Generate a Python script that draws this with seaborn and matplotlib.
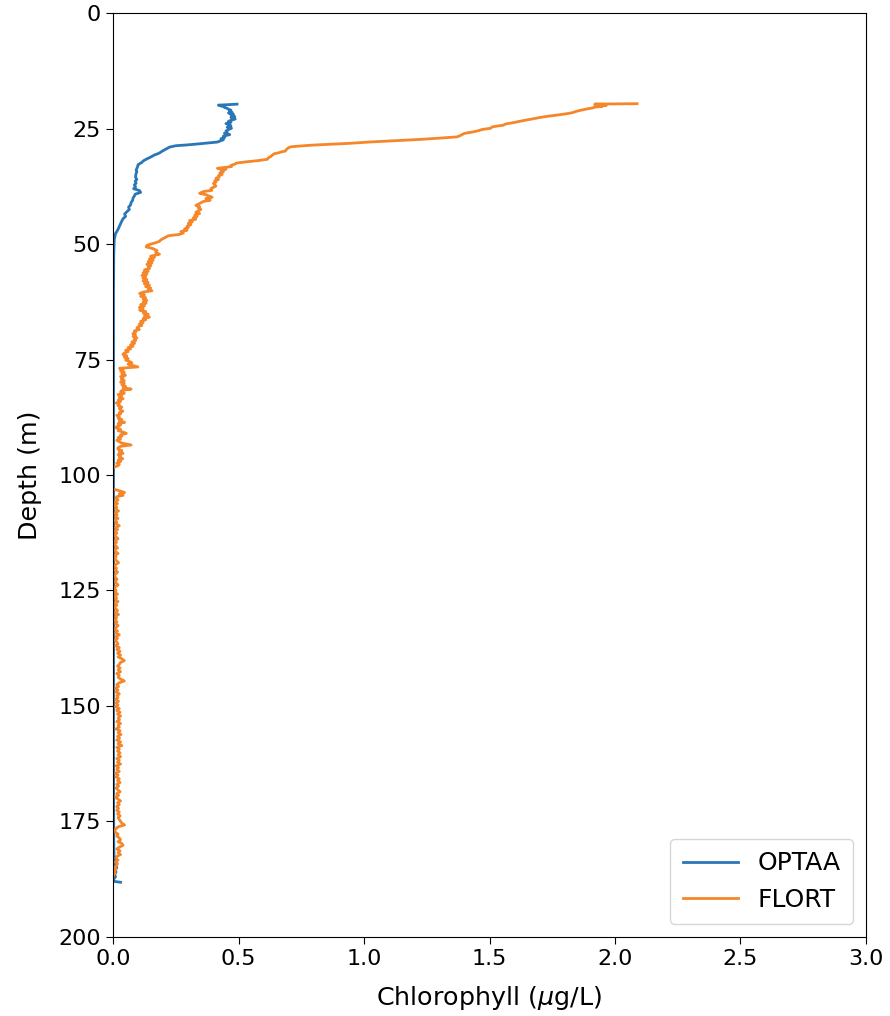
import matplotlib
matplotlib.use("Agg")
import matplotlib.pyplot as plt
import seaborn as sns

# ---------------- data (depth in m, chlorophyll in ug/L) ----------------
# OPTAA profile, in segments
optaa_depth_a = [19.7, 19.8, 19.9, 20.1, 20.2, 20.4, 20.6, 20.8, 21.0, 21.2, 21.5, 21.6, 21.9, 22.1, 22.4,
                 22.6, 22.9, 23.1, 23.4, 23.6, 23.9, 24.2, 24.4, 24.7, 24.9, 25.2, 25.5, 25.8, 26.0, 26.3]
optaa_chl_a = [0.494, 0.46, 0.42, 0.43, 0.44, 0.444, 0.455, 0.46, 0.47, 0.465, 0.475, 0.46, 0.48, 0.47, 0.485,
               0.47, 0.487, 0.475, 0.46, 0.47, 0.45, 0.465, 0.47, 0.455, 0.472, 0.46, 0.45, 0.455, 0.444, 0.465]
optaa_depth_b = [26.6, 26.9, 27.2, 27.4, 27.7, 27.9, 28.2, 28.5, 28.7, 29.0, 29.3, 29.6, 29.9, 30.1, 30.4,
                 30.7, 31.0, 31.3, 31.4, 31.7, 32.0, 32.3, 32.6, 32.8, 33.2, 33.6, 34.0, 34.3, 34.7, 35.2]
optaa_chl_b = [0.44, 0.445, 0.43, 0.44, 0.425, 0.416, 0.36, 0.30, 0.25, 0.225, 0.215, 0.205, 0.195, 0.19, 0.18,
               0.165, 0.155, 0.145, 0.14, 0.13, 0.12, 0.115, 0.106, 0.10, 0.098, 0.095, 0.092, 0.095, 0.092, 0.09]
optaa_depth_c = [35.6, 36.0, 36.4, 36.8, 37.2, 37.6, 38.0, 38.4, 38.8, 39.2, 39.6, 40.0, 40.5, 41.0, 41.5,
                 42.0, 42.5, 43.0, 43.5, 44.0, 44.5, 45.0, 45.6, 46.2, 46.8, 47.3, 47.7]
optaa_chl_c = [0.09, 0.095, 0.088, 0.092, 0.085, 0.09, 0.082, 0.105, 0.11, 0.088, 0.085, 0.08, 0.078, 0.072, 0.07,
               0.062, 0.065, 0.055, 0.046, 0.05, 0.04, 0.035, 0.03, 0.025, 0.02, 0.015, 0.01]
optaa_depth_d = [49.0, 52.0, 60.0, 80.0, 100.0, 120.0, 140.0, 160.0, 180.0, 182.5, 183.0, 183.5, 184.0, 184.5,
                 185.0, 185.5, 186.0, 186.5, 187.0, 187.5, 188.0, 188.2]
optaa_chl_d = [0.005, 0.003, 0.002, 0.002, 0.002, 0.002, 0.002, 0.002, 0.003, 0.004, 0.01, 0.006, 0.012, 0.006,
               0.015, 0.008, 0.012, 0.006, 0.01, 0.003, 0.003, 0.03]

# FLORT profile, in segments
flort_depth_a = [19.59, 19.68, 19.78, 19.87, 19.96, 20.06, 20.15, 20.34, 20.52, 20.71, 20.99, 21.27, 21.55, 21.74, 22.02,
                 22.30, 22.58, 22.86, 23.14, 23.42, 23.70, 23.98, 24.26, 24.44, 24.63, 24.91, 25.19, 25.47, 25.75, 26.03]
flort_chl_a = [2.088, 1.92, 1.96, 1.92, 1.965, 1.93, 1.95, 1.92, 1.91, 1.89, 1.866, 1.845, 1.83, 1.81, 1.775,
               1.735, 1.70, 1.675, 1.645, 1.62, 1.595, 1.565, 1.554, 1.53, 1.51, 1.505, 1.47, 1.454, 1.43, 1.40]
flort_depth_b = [26.31, 26.59, 26.78, 27.06, 27.34, 27.62, 27.90, 28.18, 28.36, 28.55, 28.74, 28.92, 29.11, 29.30, 29.58,
                 29.86, 30.04, 30.23, 30.42, 30.70, 30.98, 31.26, 31.63, 31.91, 32.19, 32.47, 32.66, 32.94, 33.22, 33.59]
flort_chl_b = [1.39, 1.38, 1.37, 1.30, 1.22, 1.12, 1.02, 0.942, 0.87, 0.80, 0.75, 0.71, 0.70, 0.695, 0.69,
               0.686, 0.67, 0.66, 0.643, 0.635, 0.63, 0.62, 0.615, 0.58, 0.53, 0.49, 0.487, 0.47, 0.472, 0.416]
flort_depth_c = [33.78, 34.06, 34.34, 34.62, 34.90, 35.18, 35.46, 35.74, 36.02, 36.30, 36.58, 36.86, 37.14, 37.42, 37.70,
                 37.98, 38.35, 38.63, 39.01, 39.29, 39.56, 39.84, 40.12, 40.50, 40.78, 41.06, 41.34, 41.62, 41.90, 42.18]
flort_chl_c = [0.45, 0.43, 0.44, 0.425, 0.435, 0.42, 0.423, 0.41, 0.42, 0.405, 0.41, 0.40, 0.405, 0.41, 0.40,
               0.39, 0.394, 0.36, 0.345, 0.37, 0.38, 0.395, 0.37, 0.387, 0.36, 0.35, 0.34, 0.33, 0.345, 0.34]
flort_depth_d = [42.5, 42.8, 43.1, 43.4, 43.7, 44.0, 44.3, 44.6, 44.9, 45.2, 45.5, 45.8, 46.1, 46.4, 46.7, 47.0, 47.3,
                 47.6, 47.9, 48.2, 48.5, 48.8, 49.1, 49.4, 49.7, 50.0, 50.3, 50.6, 51.0, 51.4, 51.8, 52.2, 52.6, 52.9]
flort_chl_d = [0.35, 0.34, 0.33, 0.345, 0.325, 0.335, 0.32, 0.33, 0.305, 0.316, 0.30, 0.31, 0.295, 0.30, 0.285, 0.295, 0.27,
               0.28, 0.265, 0.22, 0.21, 0.2, 0.19, 0.185, 0.17, 0.15, 0.135, 0.132, 0.16, 0.175, 0.17, 0.185, 0.15, 0.165]
flort_depth_e = [53.2, 53.5, 53.8, 54.1, 54.4, 54.7, 55.0, 55.3, 55.6, 55.9, 56.2, 56.5, 56.8, 57.1, 57.4,
                 57.7, 58.0, 58.3, 58.6, 58.9, 59.2, 59.5, 59.8, 60.1, 60.4, 60.7, 61.0, 61.3, 61.6, 61.9]
flort_chl_e = [0.145, 0.16, 0.14, 0.155, 0.135, 0.15, 0.14, 0.145, 0.125, 0.14, 0.12, 0.135, 0.115, 0.13, 0.119,
               0.135, 0.12, 0.14, 0.125, 0.145, 0.13, 0.15, 0.14, 0.155, 0.12, 0.106, 0.125, 0.11, 0.13, 0.12]
flort_depth_f = [62.2, 62.5, 62.8, 63.1, 63.4, 63.7, 64.0, 64.3, 64.6, 64.9, 65.2, 65.5, 65.8, 66.1, 66.4,
                 66.7, 67.0, 67.3, 67.6, 67.9, 68.2, 68.5, 68.8, 69.1, 69.4, 69.7, 70.0, 70.3, 70.6, 70.9]
flort_chl_f = [0.135, 0.12, 0.132, 0.11, 0.125, 0.105, 0.12, 0.106, 0.13, 0.12, 0.14, 0.125, 0.145, 0.12, 0.13,
               0.11, 0.12, 0.105, 0.115, 0.1, 0.095, 0.105, 0.085, 0.09, 0.079, 0.09, 0.08, 0.095, 0.085, 0.09]
flort_depth_g = [71.2, 71.5, 71.8, 72.1, 72.4, 72.7, 73.0, 73.3, 73.6, 73.9, 74.2, 74.5, 74.8, 75.1, 75.4,
                 75.7, 76.0, 76.3, 76.6, 76.9, 77.2, 77.5, 77.8, 78.1, 78.4, 78.7, 79.0, 79.3, 79.6, 79.9]
flort_chl_g = [0.075, 0.086, 0.07, 0.08, 0.06, 0.07, 0.05, 0.06, 0.045, 0.039, 0.055, 0.045, 0.06, 0.05, 0.065,
               0.075, 0.06, 0.08, 0.099, 0.026, 0.04, 0.03, 0.045, 0.035, 0.05, 0.03, 0.04, 0.033, 0.045, 0.03]
flort_depth_h = [80.2, 80.5, 80.8, 81.1, 81.4, 81.7, 82.0, 82.3, 82.6, 82.9, 83.2, 83.5, 83.8, 84.1, 84.4,
                 84.7, 85.0, 85.3, 85.6, 85.9, 86.2, 86.5, 86.8, 87.1, 87.4, 87.7, 88.0, 88.3, 88.6, 88.9]
flort_chl_h = [0.045, 0.035, 0.05, 0.04, 0.072, 0.035, 0.03, 0.045, 0.02, 0.035, 0.025, 0.04, 0.02, 0.03, 0.013,
               0.025, 0.02, 0.035, 0.025, 0.03, 0.039, 0.025, 0.03, 0.015, 0.025, 0.02, 0.035, 0.025, 0.046, 0.02]
flort_depth_i = [89.2, 89.5, 89.8, 90.1, 90.4, 90.7, 91.0, 91.3, 91.6, 91.9, 92.2, 92.5, 92.8, 93.1, 93.5,
                 93.8, 94.1, 94.4, 94.7, 95.0, 95.3, 95.6, 95.9, 96.2, 96.5, 96.8, 97.1, 97.4, 97.7, 98.0]
flort_chl_i = [0.03, 0.015, 0.013, 0.03, 0.02, 0.04, 0.053, 0.03, 0.035, 0.02, 0.03, 0.015, 0.025, 0.035, 0.072,
               0.03, 0.02, 0.019, 0.035, 0.025, 0.04, 0.02, 0.03, 0.025, 0.039, 0.02, 0.03, 0.015, 0.025, 0.019]
flort_depth_j = [98.3, 98.8, 100.0, 101.5, 102.8, 103.2, 103.5, 103.8, 104.1, 104.4, 104.7, 105.0, 105.4, 105.8, 106.2,
                 106.6, 107.0, 107.4, 107.8, 108.2, 108.6, 109.0, 109.4, 109.8, 110.2, 110.6, 111.0, 111.4, 111.8, 112.2]
flort_chl_j = [0.005, -0.01, -0.01, -0.01, -0.005, 0.01, 0.03, 0.046, 0.025, 0.04, 0.015, 0.012, 0.02, 0.008, 0.018,
               0.005, 0.015, 0.01, 0.022, 0.008, 0.016, 0.01, 0.02, 0.006, 0.015, 0.012, 0.025, 0.01, 0.018, 0.008]
flort_depth_k = [112.6, 113.0, 113.4, 113.8, 114.2, 114.6, 115.0, 115.4, 115.8, 116.2, 116.6, 117.0, 117.4, 117.8, 118.2,
                 118.6, 119.0, 119.4, 119.8, 120.2, 120.6, 121.0, 121.4, 121.8, 122.2, 122.6, 123.0, 123.4, 123.8, 124.2]
flort_chl_k = [0.015, 0.005, 0.012, 0.02, 0.008, 0.014, 0.004, 0.012, 0.018, 0.006, 0.01, 0.02, 0.008, 0.012, 0.005,
               0.015, 0.022, 0.01, 0.006, 0.014, 0.008, 0.018, 0.012, 0.004, 0.01, 0.016, 0.008, 0.012, 0.02, 0.01]
flort_depth_l = [124.6, 125.0, 125.4, 125.8, 126.2, 126.6, 127.0, 127.4, 127.8, 128.2, 128.6, 129.0, 129.4, 129.8, 130.2,
                 130.6, 131.0, 131.4, 131.8, 132.2, 132.6, 133.0, 133.4, 133.8, 134.2, 134.6, 135.0, 135.4, 135.8, 136.2]
flort_chl_l = [0.005, 0.012, 0.008, 0.018, 0.006, 0.014, 0.01, 0.02, 0.008, 0.015, 0.005, 0.012, 0.018, 0.008, 0.022,
               0.01, 0.014, 0.006, 0.016, 0.01, 0.02, 0.012, 0.008, 0.018, 0.01, 0.025, 0.012, 0.018, 0.008, 0.015]
flort_depth_m = [136.6, 137.0, 137.4, 137.8, 138.2, 138.6, 139.0, 139.4, 139.8, 140.2, 140.6, 141.0, 141.4, 141.8, 142.2,
                 142.6, 143.0, 143.4, 143.8, 144.2, 144.6, 145.0, 145.4, 145.8, 146.2, 146.6, 147.0, 147.4, 147.8, 148.2]
flort_chl_m = [0.02, 0.01, 0.025, 0.015, 0.028, 0.018, 0.03, 0.02, 0.035, 0.045, 0.03, 0.025, 0.018, 0.028, 0.02,
               0.03, 0.015, 0.025, 0.02, 0.03, 0.045, 0.025, 0.015, 0.022, 0.01, 0.02, 0.012, 0.025, 0.015, 0.02]
flort_depth_n = [148.6, 149.0, 149.4, 149.8, 150.2, 150.6, 151.0, 151.4, 151.8, 152.2, 152.6, 153.0, 153.4, 153.8, 154.2,
                 154.6, 155.0, 155.4, 155.8, 156.2, 156.6, 157.0, 157.4, 157.8, 158.2, 158.6, 159.0, 159.4, 159.8, 160.2]
flort_chl_n = [0.01, 0.022, 0.012, 0.02, 0.01, 0.025, 0.015, 0.028, 0.018, 0.03, 0.02, 0.026, 0.015, 0.03, 0.02,
               0.025, 0.012, 0.028, 0.02, 0.032, 0.018, 0.026, 0.015, 0.03, 0.02, 0.035, 0.015, 0.025, 0.018, 0.028]
flort_depth_o = [160.6, 161.0, 161.4, 161.8, 162.2, 162.6, 163.0, 163.4, 163.8, 164.2, 164.6, 165.0, 165.4, 165.8, 166.2,
                 166.6, 167.0, 167.4, 167.8, 168.2, 168.6, 169.0, 169.4, 169.8, 170.2, 170.6, 171.0, 171.4, 171.8, 172.2]
flort_chl_o = [0.02, 0.03, 0.015, 0.025, 0.018, 0.03, 0.012, 0.022, 0.015, 0.025, 0.01, 0.02, 0.012, 0.025, 0.018,
               0.028, 0.015, 0.022, 0.012, 0.02, 0.028, 0.015, 0.022, 0.01, 0.02, 0.03, 0.018, 0.025, 0.015, 0.022]
flort_depth_p = [172.6, 173.0, 173.4, 173.8, 174.2, 174.6, 175.0, 175.4, 175.8, 176.2, 176.6, 177.0, 177.4, 177.8, 178.2,
                 178.6, 179.0, 179.4, 179.8, 180.2, 180.6, 181.0, 181.4, 181.8, 182.2, 182.6, 183.0, 183.4, 183.8, 184.2]
flort_chl_p = [0.015, 0.025, 0.018, 0.028, 0.02, 0.025, 0.03, 0.035, 0.046, 0.02, 0.012, 0.005, 0.01, 0.02, 0.015,
               0.025, 0.03, 0.02, 0.035, 0.04, 0.025, 0.015, 0.028, 0.02, 0.03, 0.015, 0.012, 0.02, 0.01, 0.018]
flort_depth_q = [184.6, 185.0, 185.4, 185.8, 186.2, 186.6, 187.0]
flort_chl_q = [0.013, 0.008, 0.012, 0.005, 0.008, 0.003, 0.0]

series_labels = ["OPTAA", "FLORT"]
series_colors = ["#2a76b6", "#f5862a"]
x_ticks = [0.0, 0.5, 1.0, 1.5, 2.0, 2.5, 3.0]
y_ticks = [0, 25, 50, 75, 100, 125, 150, 175, 200]

optaa_depth = optaa_depth_a + optaa_depth_b + optaa_depth_c + optaa_depth_d
optaa_chl = optaa_chl_a + optaa_chl_b + optaa_chl_c + optaa_chl_d
flort_depth = (flort_depth_a + flort_depth_b + flort_depth_c + flort_depth_d + flort_depth_e
               + flort_depth_f + flort_depth_g + flort_depth_h + flort_depth_i + flort_depth_j
               + flort_depth_k + flort_depth_l + flort_depth_m + flort_depth_n + flort_depth_o
               + flort_depth_p + flort_depth_q)
flort_chl = (flort_chl_a + flort_chl_b + flort_chl_c + flort_chl_d + flort_chl_e
             + flort_chl_f + flort_chl_g + flort_chl_h + flort_chl_i + flort_chl_j
             + flort_chl_k + flort_chl_l + flort_chl_m + flort_chl_n + flort_chl_o
             + flort_chl_p + flort_chl_q)

# ---------------- plot ----------------
plt.rcParams['font.family'] = ['DejaVu Sans']
fig = plt.figure(figsize=(8.9, 10.16), dpi=100)
ax = fig.add_axes([0.127, 0.078, 0.846, 0.909])

sns.lineplot(x=optaa_chl, y=optaa_depth, sort=False, estimator=None,
             color=series_colors[0], linewidth=2.0, label=series_labels[0], ax=ax)
sns.lineplot(x=flort_chl, y=flort_depth, sort=False, estimator=None,
             color=series_colors[1], linewidth=2.0, label=series_labels[1], ax=ax)

ax.set_xlim(0, 3)
ax.set_ylim(200, 0)
ax.set_xticks(x_ticks)
ax.set_yticks(y_ticks)
ax.tick_params(labelsize=16, length=5)
ax.set_xlabel(r"Chlorophyll ($\mu$g/L)", fontsize=18.3, labelpad=11)
ax.set_ylabel("Depth (m)", fontsize=18.3, labelpad=12)
for s in ax.spines.values():
    s.set_visible(True)
    s.set_color("black")
ax.legend(loc="lower right", fontsize=18, borderpad=0.5, handlelength=2.2)

fig.savefig("out.png", dpi=100)
